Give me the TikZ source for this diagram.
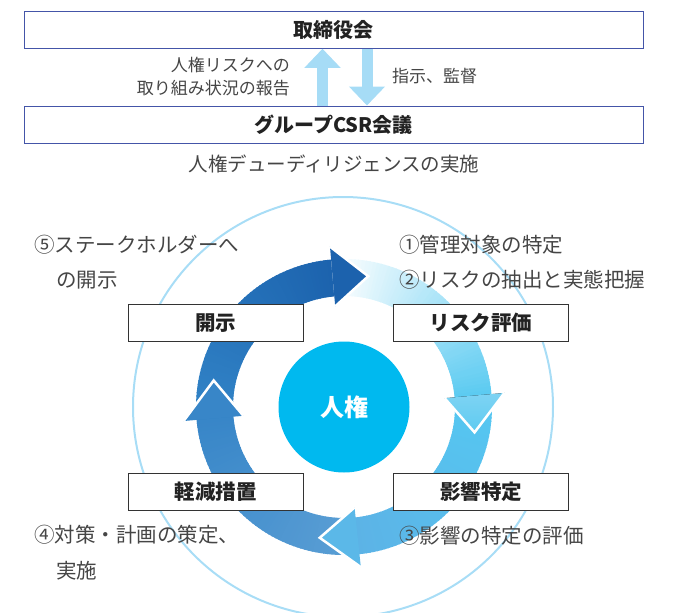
\documentclass[tikz,border=0pt]{standalone}
\usepackage{fontspec}
\setmainfont{Noto Sans CJK JP}
\usetikzlibrary{arrows.meta}
\definecolor{boardline}{HTML}{4455A8}
\definecolor{stageline}{HTML}{333333}
\definecolor{boxtext}{HTML}{222222}
\definecolor{labelgray}{HTML}{454545}
\definecolor{flowblue}{HTML}{A6DCF6}
\definecolor{outerblue}{HTML}{A8DDF6}
\definecolor{corecol}{HTML}{00B9EF}
\definecolor{topA}{HTML}{3284C7}
\definecolor{topB}{HTML}{1C63AE}
\definecolor{rightA}{HTML}{FFFFFF}
\definecolor{rightB}{HTML}{5CCBF1}
\definecolor{botA}{HTML}{55C8F2}
\definecolor{botB}{HTML}{5CB3E6}
\definecolor{leftA}{HTML}{5B9FD5}
\definecolor{leftB}{HTML}{3886C8}
\definecolor{headtop}{HTML}{1C62AD}
\definecolor{headrtA}{HTML}{7ED3F3}
\definecolor{headrtB}{HTML}{5ECBF1}
\definecolor{headbot}{HTML}{5BB8E8}
\definecolor{headleft}{HTML}{3886C8}
\newcommand{\gradarc}[4]{%
  \foreach \k in {0,...,59}{%
    \pgfmathsetmacro\angA{#1+(#2-#1)*\k/60}%
    \pgfmathsetmacro\angB{#1+(#2-#1)*(\k+1)/60-0.5}%
    \pgfmathtruncatemacro\pp{100*\k/59}%
    \fill[#4!\pp!#3] (\angA:148) arc[start angle=\angA, end angle=\angB, radius=148]
      -- (\angB:111) arc[start angle=\angB, end angle=\angA, radius=111] -- cycle;
  }}
\newcommand{\ringhead}[3]{%
  \fill[#3] (#1:161) -- (#2:133) -- (#1:101) -- cycle;
  \draw[white, line width=2.5pt, line join=miter] (#1:161) -- (#2:133) -- (#1:101);
}
\begin{document}
\begin{tikzpicture}[x=1pt,y=1pt,
  lbl/.style={inner sep=0pt, text=labelgray, font=\fontsize{20.5}{24}\selectfont},
  titlelbl/.style={inner sep=0pt, text=labelgray, font=\fontsize{19.5}{24}\selectfont},
  smalllbl/.style={inner sep=0pt, text=labelgray, font=\fontsize{17}{20}\selectfont},
  topbox/.style={draw=boardline, line width=1pt, fill=white, minimum width=619pt, minimum height=37pt, inner sep=0pt, font=\bfseries\fontsize{20}{24}\selectfont, text=boxtext},
  stagebox/.style={draw=stageline, line width=1pt, fill=white, minimum width=175pt, minimum height=37pt, inner sep=0pt, font=\bfseries\fontsize{20.5}{24}\selectfont, text=boxtext},
  updown/.style={line width=11pt, draw=flowblue, -{Triangle[width=35pt,length=19pt]}},
]
\useasboundingbox (0,0) rectangle (678,-613);

% governance boxes
\node[topbox] (board) at (333.5,-29.75) {取締役会};
\node[topbox] (csr) at (333.5,-124.5) {グループCSR会議};
\coordinate (upx) at (322.5,0);
\coordinate (dnx) at (367,0);
\draw[updown] (csr.north -| upx) -- (board.south -| upx);
\draw[updown] (board.south -| dnx) -- (csr.north -| dnx);
\node[smalllbl, anchor=east] (rep1) at (290,-65) {人権リスクへの};
\node[smalllbl, anchor=east] (rep2) at (290,-88) {取り組み状況の報告};
\node[smalllbl, anchor=west] (instr) at (392,-76) {指示、監督};
\node[titlelbl] (title) at (334,-164) {人権デューディリジェンスの実施};

% cycle
\begin{scope}[shift={(344,-407)}]
  \draw[outerblue, line width=2pt] (-1,0) circle[radius=210];
  \gradarc{-84}{-175}{leftA}{leftB}
  \gradarc{185}{95}{topA}{topB}
  \gradarc{95}{5}{rightA}{rightB}
  \gradarc{5}{-84}{botA}{botB}
  \ringhead{95}{79.5}{headtop}
  \ringhead{5}{-11}{top color=headrtA, bottom color=headrtB}
  \ringhead{-84}{-100.5}{headbot}
  \ringhead{185}{168.5}{headleft}
\end{scope}

\node[circle, fill=corecol, minimum size=131pt, inner sep=0pt, text=white, font=\bfseries\fontsize{24}{28}\selectfont] (core) at (344,-407) {人権};

\node[stagebox] (kaiji) at (215.5,-323) {開示};
\node[stagebox] (risk) at (481,-323) {リスク評価};
\node[stagebox] (keigen) at (215.5,-491.5) {軽減措置};
\node[stagebox] (eikyo) at (481,-491.5) {影響特定};

\node[lbl, anchor=west] (n5a) at (34,-245) {⑤ステークホルダーへ};
\node[lbl, anchor=west] (n5b) at (56,-280) {の開示};
\node[lbl, anchor=west] (n1) at (399,-245) {①管理対象の特定};
\node[lbl, anchor=west] (n2) at (399,-280) {②リスクの抽出と実態把握};
\node[lbl, anchor=west] (n4a) at (34,-535) {④対策・計画の策定、};
\node[lbl, anchor=west] (n4b) at (56,-571) {実施};
\node[lbl, anchor=west] (n3) at (399,-536) {③影響の特定の評価};
\end{tikzpicture}
\end{document}
